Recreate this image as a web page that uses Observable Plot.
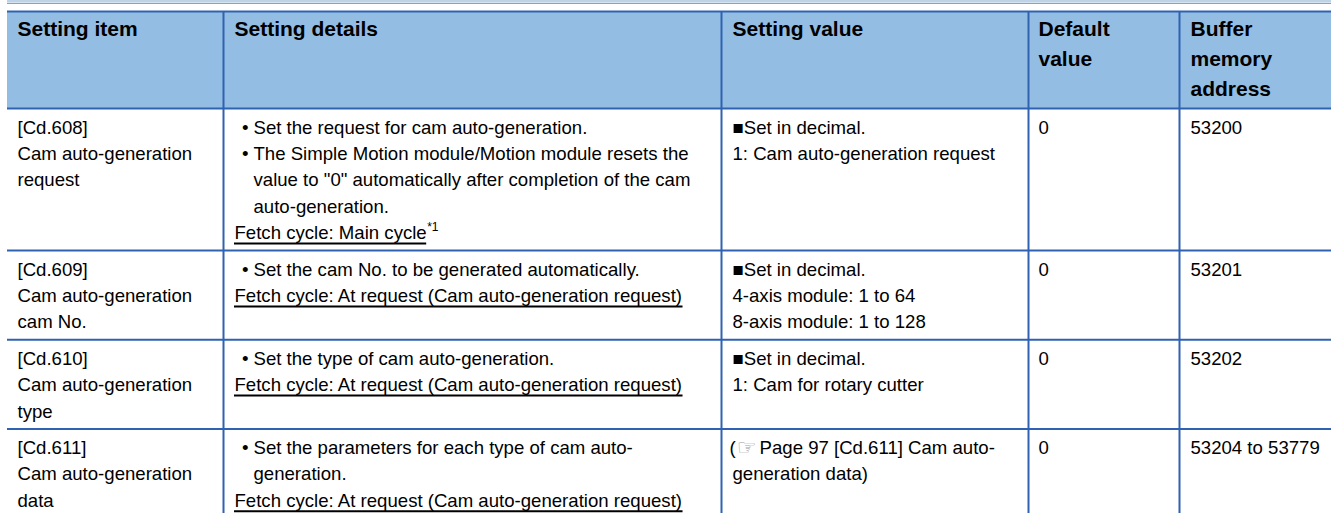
<!DOCTYPE html>
<html>
<head>
<meta charset="utf-8">
<script src="https://cdn.jsdelivr.net/npm/d3@7"></script>
<script src="https://cdn.jsdelivr.net/npm/@observablehq/plot@0.6"></script>
<style>
  html, body { margin: 0; padding: 0; background: #ffffff; }
  svg { display: block; }
</style>
</head>
<body>
<div id="chart"></div>
<script>
// ---------- DATA ----------
const headers = [
  ["Setting item"],
  ["Setting details"],
  ["Setting value"],
  ["Default", "value"],
  ["Buffer", "memory", "address"]
];
const items = [
  ["[Cd.608]", "Cam auto-generation", "request"],
  ["[Cd.609]", "Cam auto-generation", "cam No."],
  ["[Cd.610]", "Cam auto-generation", "type"],
  ["[Cd.611]", "Cam auto-generation", "data"]
];
const details = [
  ["• Set the request for cam auto-generation.",
   "• The Simple Motion module/Motion module resets the",
   "  value to \"0\" automatically after completion of the cam",
   "  auto-generation.",
   "Fetch cycle: Main cycle"],
  ["• Set the cam No. to be generated automatically.",
   "Fetch cycle: At request (Cam auto-generation request)"],
  ["• Set the type of cam auto-generation.",
   "Fetch cycle: At request (Cam auto-generation request)"],
  ["• Set the parameters for each type of cam auto-",
   "  generation.",
   "Fetch cycle: At request (Cam auto-generation request)"]
];
const footnotes = ["*1", "", "", ""];
const values = [
  ["■Set in decimal.", "1: Cam auto-generation request"],
  ["■Set in decimal.", "4-axis module: 1 to 64", "8-axis module: 1 to 128"],
  ["■Set in decimal.", "1: Cam for rotary cutter"],
  ["(☞ Page 97 [Cd.611] Cam auto-", "generation data)"]
];
const defaults = ["0", "0", "0", "0"];
const addresses = ["53200", "53201", "53202", "53204 to 53779"];

// ---------- LAYOUT ----------
const W = 1331, H = 513;
const FONT = '"Liberation Sans", Arial, "DejaVu Sans", sans-serif';
const bodySize = 18.6, headSize = 21, supSize = 12, iconSize = 22;
const lineH = 26.4, headLineH = 30;
const cols = [7, 223, 721, 1028, 1179, W];      // column edges
const pads = [10, 11, 11, 10, 11];
const headTop = 11, headFirstBase = 24, headBottom = 108;
const rowPad = 10, firstBase = 25;
const lineColor = "#2f62b0", headFill = "#93bde3";
const bulletOff = 18.5, indentOff = 30;

const ctx = document.createElement("canvas").getContext("2d");
function tw(s, size, weight = "normal") {
  ctx.font = `${weight} ${size}px ${FONT}`;
  return ctx.measureText(s).width;
}

// row boundaries
const rowTops = [headBottom];
items.forEach((_, i) => {
  const n = Math.max(items[i].length, details[i].length, values[i].length, 1);
  rowTops.push(rowTops[i] + n * lineH + rowPad);
});

const headTexts = [];
headers.forEach((lines, c) => lines.forEach((t, k) =>
  headTexts.push({x: cols[c] + pads[c], y: headTop + headFirstBase + k * headLineH, text: t})));

const body = [], icons = [], sups = [], unders = [];
items.forEach((_, r) => {
  const top = rowTops[r];
  const base = k => top + firstBase + k * lineH;
  items[r].forEach((t, k) => body.push({x: cols[0] + pads[0], y: base(k), text: t}));
  details[r].forEach((t, k) => {
    const x0 = cols[1] + pads[1];
    if (t.startsWith("• ")) {
      body.push({x: cols[1] + bulletOff, y: base(k), text: "•"});
      body.push({x: cols[1] + indentOff, y: base(k), text: t.slice(2)});
    } else if (t.startsWith("  ")) {
      body.push({x: cols[1] + indentOff, y: base(k), text: t.trim()});
    } else {
      body.push({x: x0, y: base(k), text: t});
      if (t.startsWith("Fetch cycle")) {
        const w = tw(t, bodySize);
        unders.push({x1: x0, x2: x0 + w, y: base(k) + 4.5});
        if (footnotes[r]) sups.push({x: x0 + w + 0.5, y: base(k) - 8, text: footnotes[r]});
      }
    }
  });
  values[r].forEach((t, k) => {
    const x0 = cols[2] + pads[2] - 3;
    const idx = t.indexOf("☞");
    if (idx >= 0) {
      const pre = t.slice(0, idx), post = t.slice(idx + 1);
      body.push({x: x0, y: base(k), text: pre});
      const xi = x0 + tw(pre, bodySize) + 1;
      icons.push({x: xi, y: base(k) + 1, text: "☞"});
      body.push({x: xi + tw("☞", iconSize) - 2, y: base(k), text: post});
    } else {
      body.push({x: x0 + 3, y: base(k), text: t});
    }
  });
  body.push({x: cols[3] + pads[3], y: base(0), text: defaults[r]});
  body.push({x: cols[4] + pads[4], y: base(0), text: addresses[r]});
});

const chart = Plot.plot({
  width: W, height: H,
  marginTop: 0, marginRight: 0, marginBottom: 0, marginLeft: 0,
  x: {domain: [0, W], range: [0, W], axis: null},
  y: {domain: [0, H], range: [0, H], axis: null},
  style: {fontFamily: FONT, background: "#ffffff", color: "#000"},
  marks: [
    // top decorative band
    Plot.rect([{x1: cols[0], x2: W, y1: 0, y2: 2.6}], {x1: "x1", x2: "x2", y1: "y1", y2: "y2", fill: "#bcd3e8"}),
    Plot.ruleY([3], {x1: cols[0], x2: W, stroke: "#7fa5c9", strokeWidth: 1}),
    // header fill
    Plot.rect([{x1: cols[0], x2: W, y1: headTop, y2: headBottom}], {x1: "x1", x2: "x2", y1: "y1", y2: "y2", fill: headFill}),
    // horizontal lines
    Plot.ruleY([headTop, ...rowTops], {x1: cols[0], x2: W, stroke: lineColor, strokeWidth: 2}),
    // vertical lines
    Plot.ruleX(cols.slice(1, -1), {y1: headTop, y2: H, stroke: lineColor, strokeWidth: 2}),
    // header text
    Plot.text(headTexts, {x: "x", y: "y", text: "text", textAnchor: "start", lineAnchor: "bottom",
      fontSize: headSize, fontWeight: "bold", fill: "#000", fontFamily: FONT}),
    // body text
    Plot.text(body, {x: "x", y: "y", text: "text", textAnchor: "start", lineAnchor: "bottom",
      fontSize: bodySize, fill: "#000", fontFamily: FONT}),
    Plot.text(icons, {x: "x", y: "y", text: "text", textAnchor: "start", lineAnchor: "bottom",
      fontSize: iconSize, fill: "#9a9a9a", fontFamily: FONT}),
    Plot.text(sups, {x: "x", y: "y", text: "text", textAnchor: "start", lineAnchor: "bottom",
      fontSize: supSize, fill: "#000", fontFamily: FONT}),
    Plot.ruleY(unders, {x1: "x1", x2: "x2", y: "y", stroke: "#000", strokeWidth: 2})
  ]
});
document.getElementById("chart").appendChild(chart);
</script>
</body>
</html>
